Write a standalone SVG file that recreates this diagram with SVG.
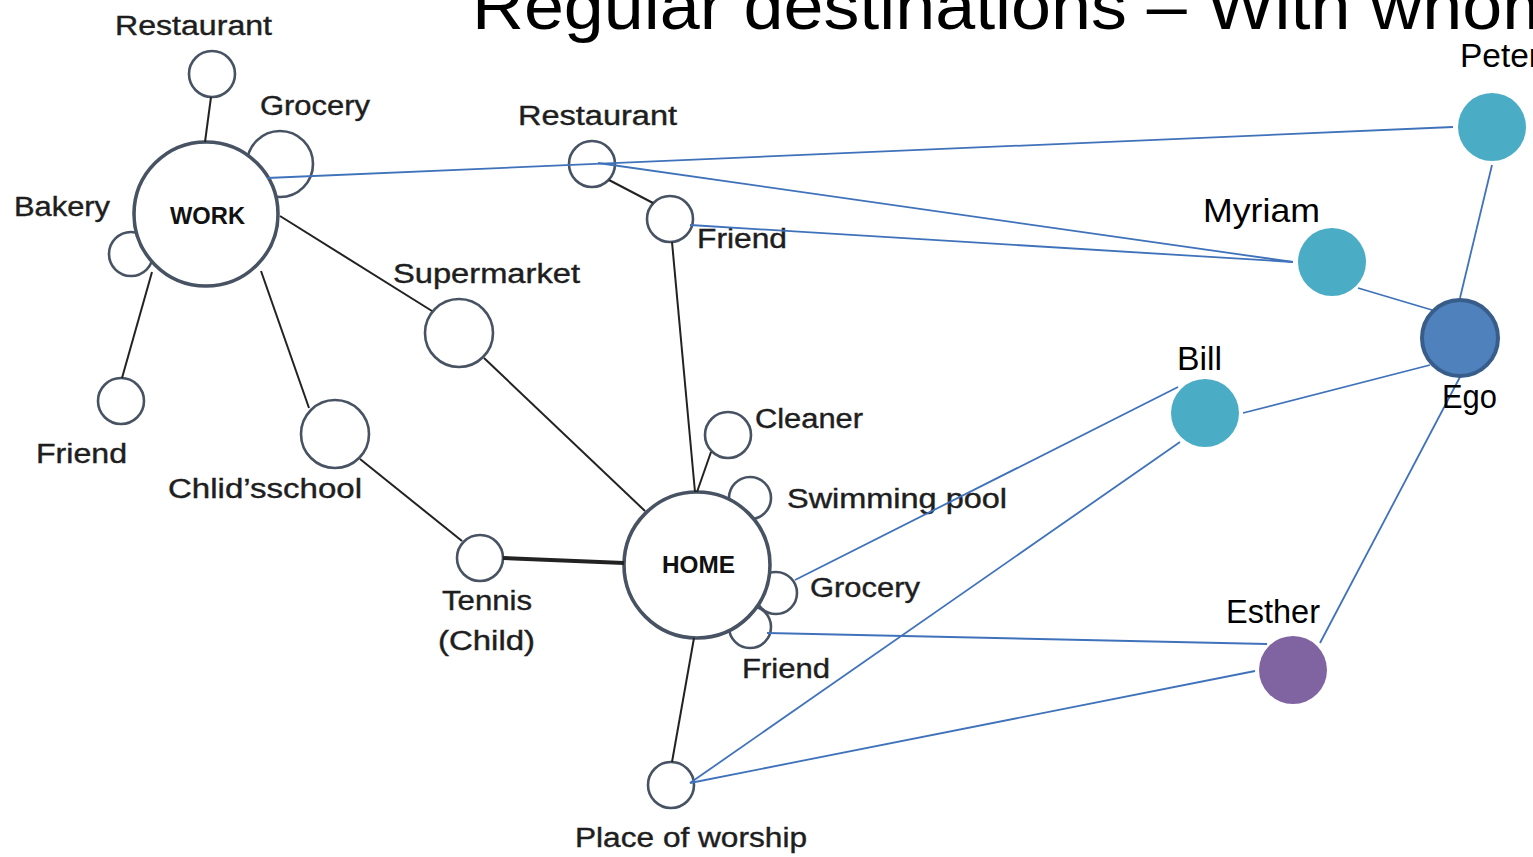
<svg xmlns="http://www.w3.org/2000/svg" width="1533" height="857" viewBox="0 0 1533 857">
<style>
.sm{fill:#ffffff;stroke:#475263;stroke-width:2.6}
.big{fill:#ffffff;stroke:#475263;stroke-width:3.6}
.lbl{font-family:"Liberation Sans",Arial,sans-serif;font-size:27px;fill:#1e1e1e;stroke:#1e1e1e;stroke-width:0.4}
.hub{font-family:"Liberation Sans",Arial,sans-serif;font-size:23px;font-weight:bold;fill:#111111}
.per{font-family:"Liberation Sans",Arial,sans-serif;font-size:34px;fill:#000000}
.title{font-family:"Liberation Sans",Arial,sans-serif;font-size:66px;fill:#000000}
.blk{stroke:#222222;stroke-width:2;fill:none}
.blk4{stroke:#222222;stroke-width:4;fill:none}
.blu{stroke:#3F72BA;stroke-width:1.8;fill:none}
.teal{fill:#4BACC6}
</style>
<rect width="1533" height="857" fill="#ffffff"/>
<text class="title" x="472" y="29" textLength="1090" lengthAdjust="spacingAndGlyphs">Regular destinations –  With whom</text>

<g id="node-restaurant-work"><circle class="sm" cx="212" cy="74" r="23"/><text class="lbl" x="115" y="35" textLength="157" lengthAdjust="spacingAndGlyphs">Restaurant</text></g>
<g id="node-grocery-work"><circle class="sm" cx="280" cy="164" r="33"/><text class="lbl" x="260" y="115" textLength="110" lengthAdjust="spacingAndGlyphs">Grocery</text></g>
<g id="node-bakery"><circle class="sm" cx="131" cy="254" r="22"/><text class="lbl" x="14" y="216" textLength="96" lengthAdjust="spacingAndGlyphs">Bakery</text></g>
<g id="node-work"><circle class="big" cx="206" cy="214" r="72"/><text class="hub" x="170" y="224" textLength="75" lengthAdjust="spacingAndGlyphs">WORK</text></g>
<g id="node-friend-work"><circle class="sm" cx="121" cy="401" r="23"/><text class="lbl" x="36" y="463" textLength="91" lengthAdjust="spacingAndGlyphs">Friend</text></g>
<g id="node-childs-school"><circle class="sm" cx="335" cy="434" r="34"/><text class="lbl" x="168" y="498" textLength="194" lengthAdjust="spacingAndGlyphs">Chlid’sschool</text></g>
<g id="node-supermarket"><circle class="sm" cx="459" cy="333" r="34"/><text class="lbl" x="393" y="283" textLength="187" lengthAdjust="spacingAndGlyphs">Supermarket</text></g>
<g id="node-restaurant-mid"><circle class="sm" cx="592" cy="164" r="23"/><text class="lbl" x="518" y="125" textLength="159" lengthAdjust="spacingAndGlyphs">Restaurant</text></g>
<g id="node-friend-mid"><circle class="sm" cx="670" cy="219" r="23"/><text class="lbl" x="697" y="248" textLength="90" lengthAdjust="spacingAndGlyphs">Friend</text></g>
<g id="node-tennis"><circle class="sm" cx="480" cy="558" r="23"/><text class="lbl" x="442" y="610" textLength="90" lengthAdjust="spacingAndGlyphs">Tennis</text><text class="lbl" x="438" y="650" textLength="97" lengthAdjust="spacingAndGlyphs">(Child)</text></g>
<g id="node-cleaner"><circle class="sm" cx="728" cy="435" r="23"/><text class="lbl" x="755" y="428" textLength="108" lengthAdjust="spacingAndGlyphs">Cleaner</text></g>
<g id="node-swimming-pool"><circle class="sm" cx="750" cy="498" r="21"/><text class="lbl" x="787" y="508" textLength="220" lengthAdjust="spacingAndGlyphs">Swimming pool</text></g>
<g id="node-grocery-home"><circle class="sm" cx="776" cy="593" r="21"/><text class="lbl" x="810" y="597" textLength="110" lengthAdjust="spacingAndGlyphs">Grocery</text></g>
<g id="node-friend-home"><circle class="sm" cx="750" cy="627" r="21"/><text class="lbl" x="742" y="678" textLength="88" lengthAdjust="spacingAndGlyphs">Friend</text></g>
<g id="node-home"><circle class="big" cx="697" cy="565" r="73"/><text class="hub" x="662" y="573" textLength="73" lengthAdjust="spacingAndGlyphs">HOME</text></g>
<g id="node-worship"><circle class="sm" cx="671" cy="785" r="23"/><text class="lbl" x="575" y="847" textLength="232" lengthAdjust="spacingAndGlyphs">Place of worship</text></g>

<g id="node-peter"><circle class="teal" cx="1492" cy="127" r="34"/><text class="per" x="1460" y="67" textLength="80" lengthAdjust="spacingAndGlyphs">Peter</text></g>
<g id="node-myriam"><circle class="teal" cx="1332" cy="262" r="34"/><text class="per" x="1203" y="222" textLength="117" lengthAdjust="spacingAndGlyphs">Myriam</text></g>
<g id="node-bill"><circle class="teal" cx="1205" cy="413" r="34"/><text class="per" x="1177" y="370" textLength="45" lengthAdjust="spacingAndGlyphs">Bill</text></g>
<g id="node-esther"><circle cx="1293" cy="670" r="34" fill="#8064A2"/><text class="per" x="1226" y="623" textLength="94" lengthAdjust="spacingAndGlyphs">Esther</text></g>

<g id="connectors">
<line class="blk" x1="211" y1="97" x2="205" y2="142"/>
<line class="blk" x1="152" y1="272" x2="122" y2="378"/>
<line class="blk" x1="261" y1="271" x2="309" y2="408"/>
<line class="blk" x1="280" y1="216" x2="432" y2="311"/>
<line class="blk" x1="484" y1="358" x2="645" y2="511"/>
<line class="blk" x1="360" y1="459" x2="462" y2="541"/>
<line class="blk4" x1="503" y1="558" x2="624" y2="563"/>
<line class="blk" x1="609" y1="180" x2="653" y2="203"/>
<line class="blk" x1="672" y1="242" x2="695" y2="492"/>
<line class="blk" x1="711" y1="452" x2="697" y2="492"/>
<line class="blk" x1="694" y1="638" x2="672" y2="762"/>
<line class="blu" x1="267" y1="178" x2="1453" y2="127"/>
<line class="blu" x1="598" y1="163" x2="1293" y2="262"/>
<line class="blu" x1="690" y1="225" x2="1293" y2="262"/>
<line class="blu" x1="1358" y1="288" x2="1432" y2="310"/>
<line class="blu" x1="1492" y1="165" x2="1460" y2="298"/>
<line class="blu" x1="1243" y1="413" x2="1430" y2="365"/>
<line class="blu" x1="1178" y1="387" x2="795" y2="580"/>
<line class="blu" x1="1180" y1="442" x2="690" y2="783"/>
<line class="blu" x1="1267" y1="644" x2="767" y2="633"/>
<line class="blu" x1="1255" y1="671" x2="690" y2="783"/>
<line class="blu" x1="1460" y1="377" x2="1320" y2="643"/>
</g>

<g id="node-ego"><circle cx="1460" cy="338" r="38" fill="#4F81BD" stroke="#385D8A" stroke-width="4"/><text class="per" x="1442" y="408" textLength="55" lengthAdjust="spacingAndGlyphs">Ego</text></g>
</svg>
